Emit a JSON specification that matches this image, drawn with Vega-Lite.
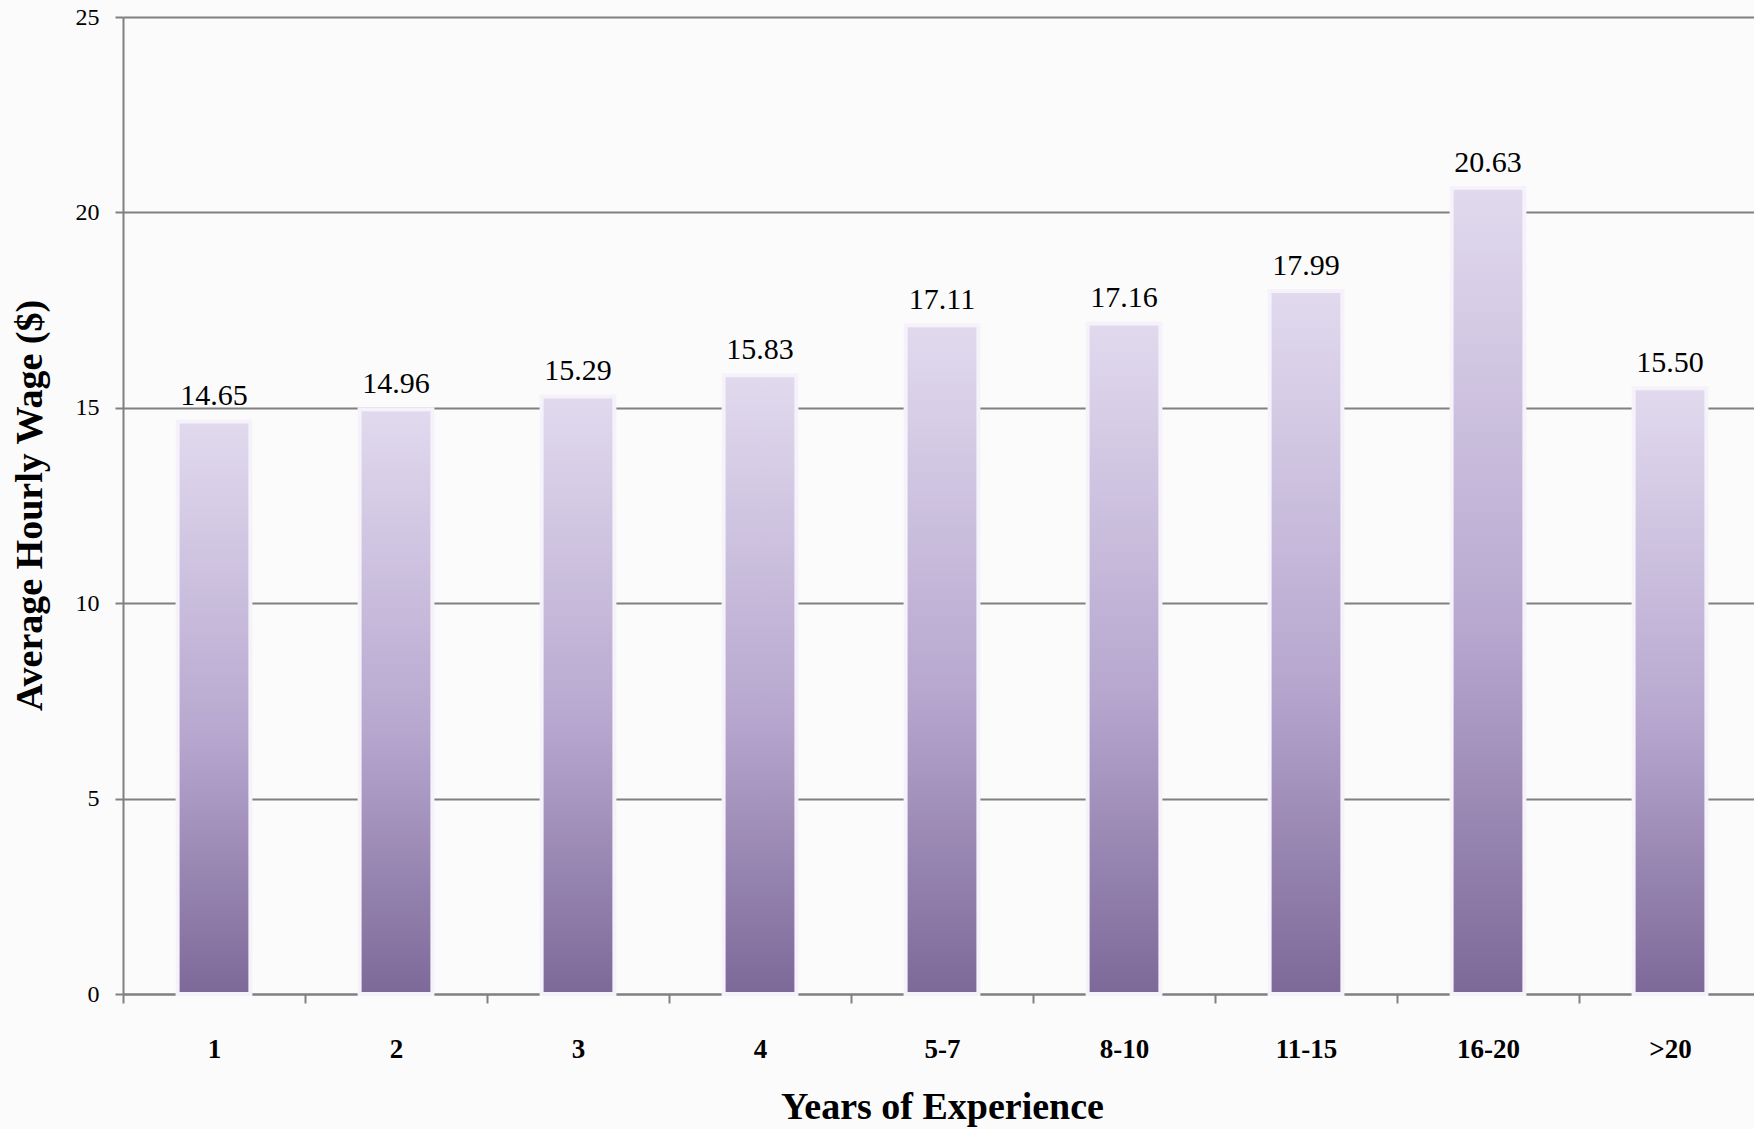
{
  "$schema": "https://vega.github.io/schema/vega-lite/v6.json",
  "width": 1638,
  "height": 977,
  "autosize": {"type": "none"},
  "padding": {"left": 123, "top": 17, "right": 0, "bottom": 135},
  "background": "#fbfbfb",
  "config": {
    "view": {"stroke": null},
    "font": "Liberation Serif"
  },
  "data": {
    "values": [
      {"years": "1", "wage": 14.65},
      {"years": "2", "wage": 14.96},
      {"years": "3", "wage": 15.29},
      {"years": "4", "wage": 15.83},
      {"years": "5-7", "wage": 17.11},
      {"years": "8-10", "wage": 17.16},
      {"years": "11-15", "wage": 17.99},
      {"years": "16-20", "wage": 20.63},
      {"years": ">20", "wage": 15.50}
    ]
  },
  "encoding": {
    "x": {
      "field": "years",
      "type": "nominal",
      "sort": null,
      "scale": {"paddingInner": 0, "paddingOuter": 0},
      "axis": {
        "title": "Years of Experience",
        "titleFont": "Liberation Serif",
        "titleFontSize": 38,
        "titleFontWeight": "bold",
        "titleColor": "#000000",
        "titlePadding": 26,
        "labelAngle": 0,
        "labelFont": "Liberation Serif",
        "labelFontSize": 27,
        "labelFontWeight": "bold",
        "labelColor": "#000000",
        "labelPadding": 33,
        "tickBand": "extent",
        "tickSize": 9,
        "tickColor": "#808080",
        "tickWidth": 2,
        "domainColor": "#808080",
        "domainWidth": 2,
        "grid": false
      }
    },
    "y": {
      "field": "wage",
      "type": "quantitative",
      "scale": {"domain": [0, 25], "nice": false},
      "axis": {
        "title": "Average Hourly Wage ($)",
        "titleFont": "Liberation Serif",
        "titleFontSize": 38,
        "titleFontWeight": "bold",
        "titleColor": "#000000",
        "titleX": -93,
        "titleY": 488,
        "titleAngle": -90,
        "titleBaseline": "middle",
        "values": [0, 5, 10, 15, 20, 25],
        "labelFont": "Liberation Serif",
        "labelFontSize": 24,
        "labelColor": "#000000",
        "labelPadding": 16,
        "tickSize": 8,
        "tickColor": "#808080",
        "tickWidth": 2,
        "domainColor": "#808080",
        "domainWidth": 2,
        "grid": true,
        "gridColor": "#808080",
        "gridWidth": 2
      }
    }
  },
  "layer": [
    {
      "mark": {
        "type": "bar",
        "width": {"band": 0.4},
        "stroke": "#f6f2fa",
        "strokeWidth": 4,
        "color": {
          "gradient": "linear",
          "x1": 0, "y1": 0, "x2": 0, "y2": 1,
          "stops": [
            {"offset": 0, "color": "#e1daee"},
            {"offset": 0.55, "color": "#b7a7cf"},
            {"offset": 1, "color": "#7d6998"}
          ]
        }
      }
    },
    {
      "mark": {
        "type": "text",
        "baseline": "alphabetic",
        "dy": -16,
        "fontSize": 30,
        "font": "Liberation Serif",
        "color": "#000000"
      },
      "encoding": {
        "text": {"field": "wage", "type": "quantitative", "format": ".2f"}
      }
    }
  ]
}
